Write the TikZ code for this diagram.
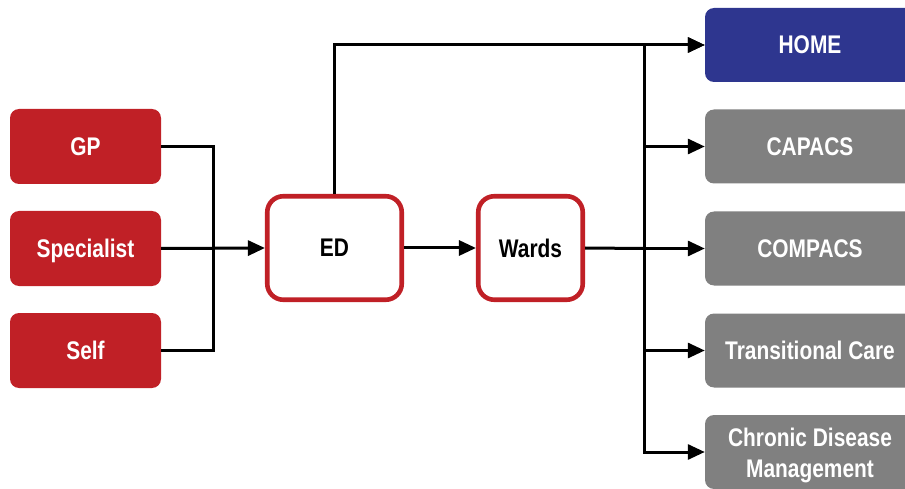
\documentclass[tikz,border=0pt]{standalone}
\usepackage{fontspec}
\setmainfont{Liberation Sans}[FakeStretch=0.82]
\usetikzlibrary{arrows.meta}
\definecolor{myred}{RGB}{192,32,38}
\definecolor{myblue}{RGB}{46,54,143}
\definecolor{mygrey}{RGB}{128,128,128}
\tikzset{
  srcbox/.style={fill=myred, rounded corners=9pt, minimum width=151pt, minimum height=75pt, text=white, inner sep=0pt, text depth=0pt},
  midbox/.style={draw=myred, line width=4.6pt, fill=white, rounded corners=16pt, minimum height=103.5pt, text=black, inner sep=0pt, text depth=0pt},
  dstbox/.style={rounded corners=9pt, minimum width=210pt, minimum height=74pt, text=white, inner sep=0pt, align=center},
  conn/.style={line width=3pt, black},
  arr/.style={conn, -{Triangle[length=17pt,width=15pt]}},
  every node/.style={font=\fontsize{25.5}{31}\selectfont\bfseries}
}
\begin{document}
\begin{tikzpicture}[x=1pt,y=-1pt]
\useasboundingbox (0,0) rectangle (905,489);
\clip (0,0) rectangle (905,489);
\node[srcbox] (GP) at (85.5,146.5) {GP};
\node[srcbox] (SP) at (85.5,248.5) {Specialist};
\node[srcbox] (SE) at (85.5,350.5) {Self};
\node[midbox, minimum width=134.5pt] (ED) at (334.5,248) {ED};
\node[midbox, minimum width=104.5pt] (WA) at (530.5,248) {Wards};
\node[dstbox, fill=myblue, text depth=0pt] (HO) at (810,45) {HOME};
\node[dstbox, fill=mygrey, text depth=0pt] (CA) at (810,146.5) {CAPACS};
\node[dstbox, fill=mygrey, text depth=0pt] (CO) at (810,248.5) {COMPACS};
\node[dstbox, fill=mygrey, text depth=0pt] (TC) at (810,350.5) {Transitional Care};
\node[dstbox, fill=mygrey] (CD) at (810,452) {\rule{0pt}{26pt}Chronic Disease\\Management};
\coordinate (J1) at (213,248.5);
\coordinate (J2) at (644,248.5);
\draw[conn] (GP.east) -| (J1);
\draw[conn] (SE.east) -| (J1);
\draw[arr] (SP.east) -- (ED.west);
\draw[arr] (ED.east) -- (WA.west);
\draw[arr] (ED.north) |- (HO.west);
\draw[conn] (WA.east) -- (J2);
\draw[arr] (J2) |- (HO.west);
\draw[arr] (J2) |- (CA.west);
\draw[arr] (J2) -- (CO.west);
\draw[arr] (J2) |- (TC.west);
\draw[arr] (J2) |- (CD.west);
\end{tikzpicture}
\end{document}
